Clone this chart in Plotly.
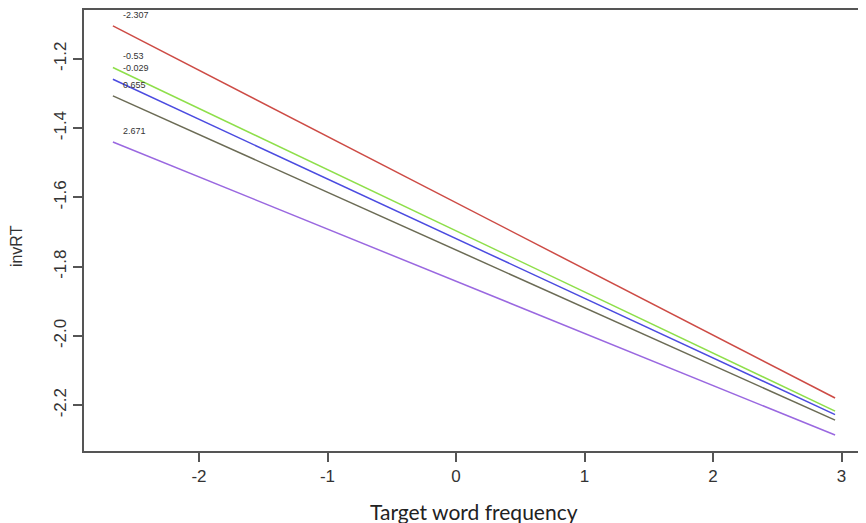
import plotly.graph_objects as go

# Data
moderator_labels = ["-2.307", "-0.53", "-0.029", "0.655", "2.671"]
x_start = -2.67
x_end = 2.95
y_start = [-1.105, -1.225, -1.259, -1.307, -1.440]
y_end = [-2.179, -2.217, -2.227, -2.243, -2.286]
line_colors = ["#CD4B45", "#8EDF4A", "#4B4BE0", "#6B6B55", "#9A68E0"]

x_ticks = [-2, -1, 0, 1, 2, 3]
y_ticks = [-2.2, -2.0, -1.8, -1.6, -1.4, -1.2]
y_tick_text = ["-2.2", "-2.0", "-1.8", "-1.6", "-1.4", "-1.2"]

fig = go.Figure()
for lab, ys, ye, col in zip(moderator_labels, y_start, y_end, line_colors):
    fig.add_trace(go.Scatter(x=[x_start, x_end], y=[ys, ye], mode="lines",
                             line=dict(color=col, width=1.5), name=lab,
                             showlegend=False, hoverinfo="skip"))

annotations = []
for lab, ys in zip(moderator_labels, y_start):
    annotations.append(dict(x=-2.61, y=ys + 0.032, xref="x", yref="y", text=lab,
                            showarrow=False, xanchor="left", yanchor="middle",
                            font=dict(size=9, color="#333333", family="Liberation Sans")))

annotations.append(dict(x=0.5, y=-0.1377, xref="paper", yref="paper",
                        text="Target word frequency", showarrow=False,
                        xanchor="center", yanchor="middle",
                        font=dict(size=21, color="#222222", family="Lato")))
annotations.append(dict(x=-0.0857, y=0.465, xref="paper", yref="paper",
                        text="invRT", showarrow=False, textangle=-90,
                        xanchor="center", yanchor="middle",
                        font=dict(size=16, color="#333333", family="Liberation Sans")))

axis_common = dict(showgrid=False, zeroline=False, showline=True, mirror=True,
                   linecolor="#555555", linewidth=1.5, ticks="outside", ticklen=9,
                   tickwidth=1.5, tickcolor="#555555",
                   tickfont=dict(size=17, color="#333333", family="Liberation Sans"))

# The page body has an 8px margin, so the figure is sized and placed to compensate
fig.update_layout(
    width=858, height=515,
    margin=dict(l=76, r=0, t=1, b=72),
    paper_bgcolor="white", plot_bgcolor="white",
    xaxis=dict(range=[-2.895, 3.175], tickvals=x_ticks,
               ticktext=[str(v) for v in x_ticks], **axis_common),
    yaxis=dict(range=[-2.332, -1.059], tickvals=y_ticks, ticktext=y_tick_text,
               tickangle=-90, **axis_common),
    annotations=annotations,
)

fig.write_html("out.html")
